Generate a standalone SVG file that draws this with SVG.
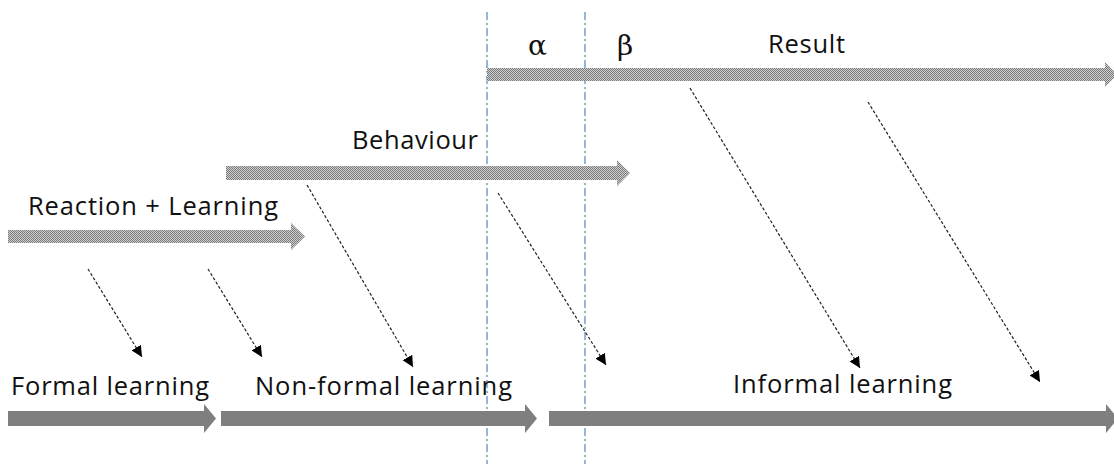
<svg xmlns="http://www.w3.org/2000/svg" width="1114" height="464" viewBox="0 0 1114 464">
  <style>
    .lbl { font-family: "Open Sans", "Liberation Sans", sans-serif; font-size: 25.5px; fill: #111; }
    .greek { font-family: "DejaVu Serif", "Liberation Serif", serif; font-size: 28px; fill: #111; }
    .hatch { fill: url(#checker); }
    .solid { fill: #7f7f7f; }
    .vline { stroke: #4f86c6; stroke-width: 1.2; stroke-dasharray: 8 3 2 3; fill: none; }
    .diag { stroke: #222; stroke-width: 1.2; stroke-dasharray: 3 2; fill: none; marker-end: url(#tri); }
  </style>
  <defs>
    <pattern id="checker" width="2" height="2" patternUnits="userSpaceOnUse">
      <rect width="2" height="2" fill="#cfcfcf"/>
      <rect width="1" height="1" fill="#7a7a7a"/>
      <rect x="1" y="1" width="1" height="1" fill="#7a7a7a"/>
    </pattern>
    <marker id="tri" viewBox="0 0 10 10" refX="10" refY="5" markerWidth="11" markerHeight="11" markerUnits="userSpaceOnUse" orient="auto">
      <path d="M0,0 L10,5 L0,10 Z" fill="#000"/>
    </marker>
  </defs>

  <g id="guides">
    <line class="vline" x1="487" y1="12" x2="487" y2="464"/>
    <line class="vline" x1="585" y1="12" x2="585" y2="464"/>
  </g>

  <g id="result">
    <polygon class="hatch" points="487,68 1105,68 1105,62 1117,74.5 1105,87 1105,81 487,81"/>
    <text class="lbl" x="768" y="53" textLength="77">Result</text>
    <text class="greek" x="528" y="55">α</text>
    <text class="greek" x="617" y="55">β</text>
  </g>

  <g id="behaviour">
    <polygon class="hatch" points="226,166 617,166 617,160 630,173 617,186 617,180 226,180"/>
    <text class="lbl" x="352" y="149" textLength="126">Behaviour</text>
  </g>

  <g id="reaction">
    <polygon class="hatch" points="8,230 291,230 291,223 305,236.5 291,250 291,243 8,243"/>
    <text class="lbl" x="28" y="215" textLength="250">Reaction + Learning</text>
  </g>

  <g id="formal">
    <polygon class="solid" points="8,411 204,411 204,404 216,418.5 204,433 204,426 8,426"/>
    <text class="lbl" x="11" y="395" textLength="198">Formal learning</text>
  </g>

  <g id="nonformal">
    <polygon class="solid" points="221,411 525,411 525,404 537,418.5 525,433 525,426 221,426"/>
    <text class="lbl" x="255" y="395" textLength="257">Non-formal learning</text>
  </g>

  <g id="informal">
    <polygon class="solid" points="549,411 1106,411 1106,404 1118,418.5 1106,433 1106,426 549,426"/>
    <text class="lbl" x="733" y="393" textLength="219">Informal learning</text>
  </g>

  <g id="connectors">
    <line class="diag" x1="88" y1="269" x2="142" y2="357"/>
    <line class="diag" x1="208" y1="269" x2="262" y2="357"/>
    <line class="diag" x1="307" y1="185" x2="413" y2="367"/>
    <line class="diag" x1="498" y1="193" x2="606" y2="365"/>
    <line class="diag" x1="690" y1="88" x2="860" y2="368"/>
    <line class="diag" x1="868" y1="102" x2="1040" y2="382"/>
  </g>
</svg>
